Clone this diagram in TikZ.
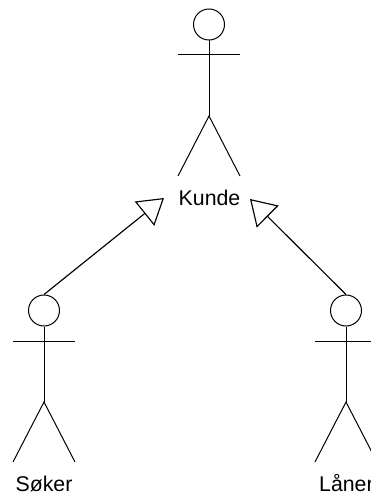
\documentclass[tikz,border=0pt]{standalone}
\usepackage{fontspec}
\setmainfont{Liberation Sans}
\usetikzlibrary{arrows.meta}
\tikzset{
  figure line/.style={draw=black,line width=1pt},
  head/.style={circle,draw=black,line width=1pt,minimum size=31pt,inner sep=0pt,fill=white},
  actor label/.style={inner sep=0pt,anchor=base,font=\fontsize{21.3}{21.3}\selectfont},
  generalises/.style={draw=black,line width=1.15pt,-{Triangle[open,length=25pt,width=31pt]}}
}
\newcommand{\stickman}[3]{% name, x, head centre y
  \node[head] (#1) at (#2,#3) {};
  \coordinate (#1neck) at (#2,#3+30.5);
  \coordinate (#1hip) at (#2,#3+91.5);
  \draw[figure line] (#1.south) -- (#1hip);
  \draw[figure line] (#2-31,#3+30.5) -- (#2+31,#3+30.5);
  \draw[figure line] (#2-31,#3+151.5) -- (#1hip) -- (#2+31,#3+151.5);
}
\begin{document}
\begin{tikzpicture}[x=1pt,y=-1pt]
  \useasboundingbox (0,0) rectangle (371,495);
  \clip (0,0) rectangle (371,495);
  \fill[white] (0,0) rectangle (371,495);
  \stickman{kunde}{209}{24.5}
  \stickman{soker}{44}{310.5}
  \stickman{laner}{346}{310.5}
  \node[actor label] (kundetxt) at (209.5,205.5) {Kunde};
  \node[actor label] (sokertxt) at (44,491.5) {Søker};
  \node[actor label,anchor=base west] (lanertxt) at (319,491.5) {Låner};
  \coordinate (tipL) at (164,198);
  \coordinate (tipR) at (250,199);
  \draw[generalises] (soker.north) -- (tipL);
  \draw[generalises] (laner.north) -- (tipR);
\end{tikzpicture}
\end{document}
